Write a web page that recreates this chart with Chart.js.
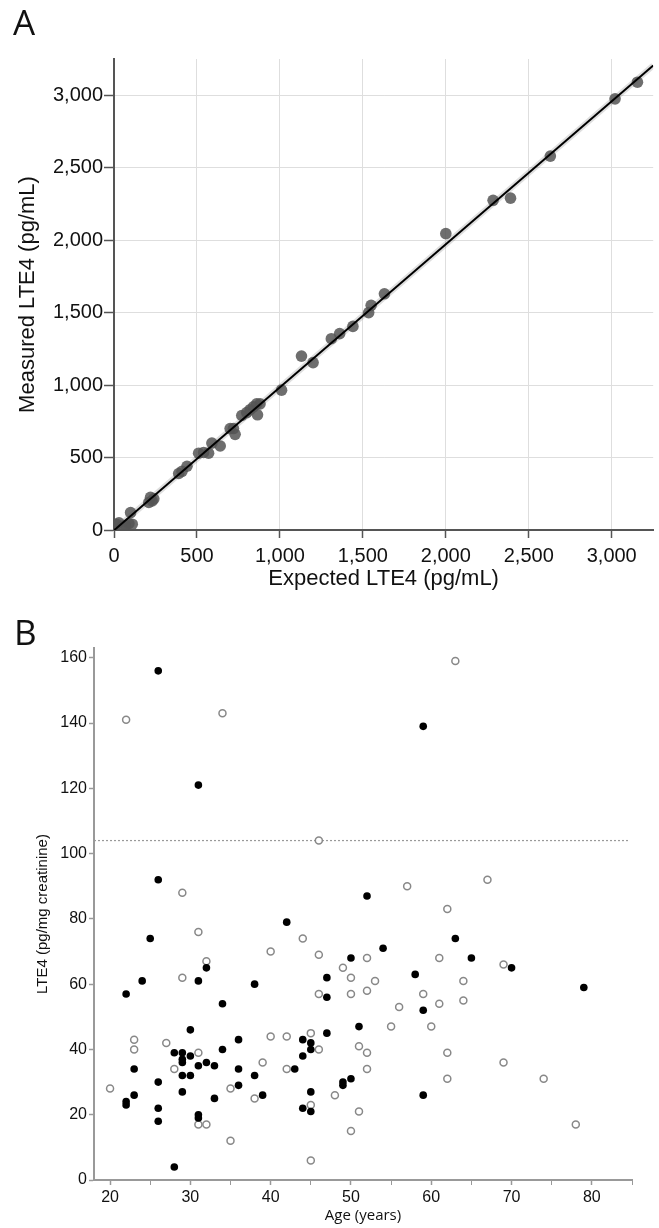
<!DOCTYPE html>
<html>
<head>
<meta charset="utf-8">
<script src="https://cdn.jsdelivr.net/npm/chart.js@4/dist/chart.umd.min.js"></script>
<style>
  html, body { margin: 0; padding: 0; background: #fff; }
  #wrap { position: relative; width: 659px; height: 1228px; }
  canvas { position: absolute; left: 0; }
  #cA { top: 0; }
  #cB { top: 600px; }
</style>
</head>
<body>
<div id="wrap">
  <canvas id="cA" width="659" height="600"></canvas>
  <canvas id="cB" width="659" height="628"></canvas>
</div>
<script>
// ---------- Panel A data ----------
const expectedLTE4 = [15, 30, 50, 70, 90, 100, 110, 210, 220, 230, 240, 390, 410, 440, 510, 540, 570, 590, 640,
  700, 720, 730, 770, 800, 820, 840, 860, 865, 880, 1010, 1130, 1200, 1310, 1360, 1440, 1535, 1550, 1630,
  2000, 2285, 2390, 2630, 3020, 3155];
const measuredLTE4 = [40, 50, 25, 30, 45, 120, 40, 190, 225, 200, 215, 390, 405, 440, 530, 535, 530, 600, 580,
  700, 700, 660, 790, 810, 830, 850, 870, 795, 870, 965, 1200, 1155, 1320, 1355, 1405, 1500, 1550, 1630,
  2045, 2275, 2290, 2580, 2975, 3090];
const fitSlope = 0.987;
const fitIntercept = -2;
const axisATicks = [0, 500, 1000, 1500, 2000, 2500, 3000];

// ---------- Panel B data ----------
const ageFilled = [42, 25, 50, 32, 24, 31, 38, 47, 22, 47, 34, 30, 51, 44, 47, 36, 45, 45, 34, 28, 29, 30, 29, 29, 32, 31, 33, 44,
  23, 36, 43, 29, 30, 38, 50, 26, 49, 49, 36, 29, 45, 23, 39, 33, 22, 22, 26, 44, 45, 31, 31, 26, 28,
  63, 54, 65, 70, 58, 79, 59, 59, 26, 31, 59, 26, 52];
const lte4Filled = [79, 74, 68, 65, 61, 61, 60, 62, 57, 56, 54, 46, 47, 43, 45, 43, 42, 40, 40, 39, 39, 38, 37, 36, 36, 35, 35, 38,
  34, 34, 34, 32, 32, 32, 31, 30, 30, 29, 29, 27, 27, 26, 26, 25, 24, 23, 22, 22, 21, 20, 19, 18, 4,
  74, 71, 68, 65, 63, 59, 52, 26, 156, 121, 139, 92, 87];
const ageOpen = [31, 44, 40, 46, 52, 32, 49, 29, 50, 53, 46, 50, 52, 23, 40, 42, 45, 46, 27, 23, 51, 52, 31, 39, 28, 42, 52,
  20, 35, 48, 38, 45, 51, 31, 32, 50, 35, 45,
  62, 61, 69, 64, 59, 61, 64, 56, 55, 60, 62, 69, 62, 74, 78,
  63, 57, 67, 22, 34, 46, 29];
const lte4Open = [76, 74, 70, 69, 68, 67, 65, 62, 62, 61, 57, 57, 58, 43, 44, 44, 45, 40, 42, 40, 41, 39, 39, 36, 34, 34, 34,
  28, 28, 26, 25, 23, 21, 17, 17, 15, 12, 6,
  83, 68, 66, 61, 57, 54, 55, 53, 47, 47, 39, 36, 31, 31, 17,
  159, 90, 92, 141, 143, 104, 88];
const thresholdLTE4 = 104;
const ageTicksStep = 5;

// ---------- helpers ----------
const zip = (xs, ys) => xs.map((x, i) => ({ x: x, y: ys[i] }));
const FONT = '"Liberation Sans", Arial, Helvetica, sans-serif';
const panelLetter = (letter, x, y) => ({
  id: 'letter' + letter,
  afterDraw(chart) {
    const ctx = chart.ctx;
    ctx.save();
    ctx.fillStyle = '#111';
    ctx.font = '35px "Open Sans", "Liberation Sans", sans-serif';
    ctx.textBaseline = 'alphabetic';
    ctx.textAlign = 'left';
    ctx.fillText(letter, x, y);
    ctx.restore();
  }
});

// ---------- Chart A ----------
const xMaxA = 3250, yMaxA = 3250;
new Chart(document.getElementById('cA'), {
  type: 'scatter',
  data: {
    datasets: [
      {
        type: 'line',
        data: [{ x: 0, y: fitIntercept }, { x: xMaxA, y: fitIntercept + fitSlope * xMaxA }],
        borderColor: 'rgba(0,0,0,0.13)', borderWidth: 6, pointRadius: 0, fill: false, order: 3
      },
      {
        data: zip(expectedLTE4, measuredLTE4),
        backgroundColor: 'rgba(85,85,85,0.85)', borderWidth: 0, pointRadius: 5.8, order: 2
      },
      {
        type: 'line',
        data: [{ x: 0, y: fitIntercept }, { x: xMaxA, y: fitIntercept + fitSlope * xMaxA }],
        borderColor: '#000', borderWidth: 2, pointRadius: 0, fill: false, order: 1
      }
    ]
  },
  options: {
    responsive: false, animation: false, devicePixelRatio: 1,
    layout: { padding: { top: 59, right: 4, left: 0, bottom: 0 } },
    plugins: { legend: { display: false }, tooltip: { enabled: false } },
    scales: {
      x: {
        type: 'linear', min: 0, max: xMaxA,
        afterFit: s => { s.height = 70; },
        afterBuildTicks: s => { s.ticks = axisATicks.map(v => ({ value: v })); },
        border: { color: '#555', width: 2 },
        grid: { color: '#dedede', lineWidth: 1, tickColor: '#555', tickLength: 8, tickWidth: 1.5 },
        ticks: { color: '#111', padding: 6, font: { family: FONT, size: 20 },
                 maxRotation: 0, callback: v => v.toLocaleString('en-US') },
        title: { display: true, text: 'Expected LTE4 (pg/mL)', color: '#111', padding: { top: 0, bottom: 8 },
                 font: { family: FONT, size: 22 } }
      },
      y: {
        type: 'linear', min: 0, max: yMaxA,
        afterFit: s => { s.width = 114; },
        afterBuildTicks: s => { s.ticks = axisATicks.map(v => ({ value: v })); },
        border: { color: '#555', width: 2 },
        grid: { color: '#dedede', lineWidth: 1, tickColor: '#555', tickLength: 10, tickWidth: 1.5 },
        ticks: { color: '#111', padding: 1, font: { family: FONT, size: 20 },
                 callback: v => v.toLocaleString('en-US') },
        title: { display: true, text: 'Measured LTE4 (pg/mL)', color: '#111', padding: { top: 15, bottom: 0 },
                 font: { family: FONT, size: 22 } }
      }
    }
  },
  plugins: [panelLetter('A', 13, 35)]
});

// ---------- Chart B ----------
const xMinB = 18, xMaxB = 85, yMaxB = 163;
new Chart(document.getElementById('cB'), {
  type: 'scatter',
  data: {
    datasets: [
      {
        type: 'line',
        data: [{ x: xMinB, y: thresholdLTE4 }, { x: 84.7, y: thresholdLTE4 }],
        borderColor: '#999', borderWidth: 1.2, borderDash: [2, 2], pointRadius: 0, fill: false, order: 3
      },
      {
        data: zip(ageOpen, lte4Open),
        backgroundColor: '#fff', borderColor: '#888', borderWidth: 1.5, pointRadius: 3.5, order: 2
      },
      {
        data: zip(ageFilled, lte4Filled),
        backgroundColor: '#000', borderColor: '#000', borderWidth: 0, pointRadius: 3.8, order: 1
      }
    ]
  },
  options: {
    responsive: false, animation: false, devicePixelRatio: 1,
    layout: { padding: { top: 48, right: 27, left: 0, bottom: 0 } },
    plugins: { legend: { display: false }, tooltip: { enabled: false } },
    scales: {
      x: {
        type: 'linear', min: xMinB, max: xMaxB,
        afterFit: s => { s.height = 48; },
        ticks: { stepSize: ageTicksStep, includeBounds: false, autoSkip: false, maxRotation: 0,
                 color: '#111', padding: 3, font: { family: FONT, size: 16 },
                 callback: v => (v % 10 === 0 ? String(v) : '') },
        border: { color: '#999', width: 2 },
        grid: { drawOnChartArea: false, tickLength: 5, tickColor: '#999',
                tickWidth: c => (c.tick && c.tick.value % 10 === 0 ? 1.5 : 1) },
        title: { display: true, text: 'Age (years)', color: '#111', padding: { top: 0, bottom: 3 },
                 font: { family: '"Open Sans", "Liberation Sans", sans-serif', size: 15 } }
      },
      y: {
        type: 'linear', min: 0, max: yMaxB,
        afterFit: s => { s.width = 94; },
        ticks: { stepSize: 20, includeBounds: false, color: '#111', padding: 2,
                 font: { family: FONT, size: 16 } },
        border: { color: '#999', width: 2 },
        grid: { drawOnChartArea: false, tickLength: 5, tickColor: '#999', tickWidth: 1.5 },
        title: { display: true, text: 'LTE4 (pg/mg creatinine)', color: '#111', padding: { top: 34, bottom: 0 },
                 font: { family: FONT, size: 15 } }
      }
    }
  },
  plugins: [panelLetter('B', 14, 45)]
});
</script>
</body>
</html>
